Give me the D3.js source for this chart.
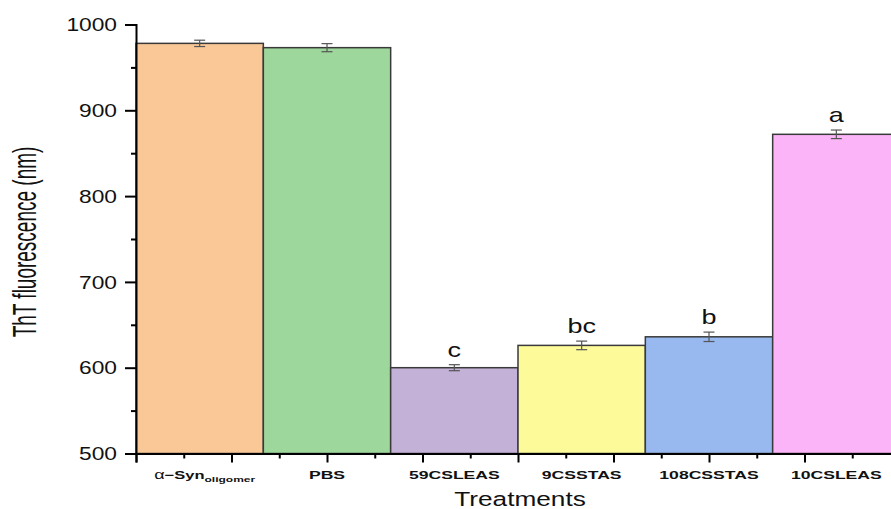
<!DOCTYPE html>
<html>
<head>
<meta charset="utf-8">
<script src="https://cdn.jsdelivr.net/npm/d3@7"></script>
<style>
  html, body { margin: 0; padding: 0; background: #fff; }
  svg { display: block; font-family: "Liberation Sans", Arial, sans-serif; }
</style>
</head>
<body>
<svg id="chart" width="891" height="509"></svg>
<script>
// Treatment groups and ThT fluorescence readings
const categories = ["α−Syn", "PBS", "59CSLEAS", "9CSSTAS", "108CSSTAS", "10CSLEAS"];
const values = [978, 973, 600, 626, 636, 872];
const errors = [3.7, 4.7, 3.5, 5, 5.5, 5];
const letters = ["", "", "c", "bc", "b", "a"];
const colors = ["#FAC897", "#9ED79B", "#C3B1D7", "#FDFB99", "#98B9F0", "#FBB4F7"];
const yTicks = [500, 600, 700, 800, 900, 1000];

const svg = d3.select("#chart");

// Bars sit at positions 1..6 on a numeric axis running 0.5 .. 6.5
const x = d3.scaleLinear().domain([0.5, 6.5]).range([136, 900]);
const y = d3.scaleLinear().domain([500, 1000]).range([453.5, 24.5]);
const bw = x(1.5) - x(0.5);

const data = categories.map((c, i) => ({ c, v: values[i], e: errors[i], l: letters[i], col: colors[i], pos: i + 1 }));

// Text in this figure is set in a horizontally widened face
function widen(sel, px, py, s) {
  sel.attr("x", 0).attr("y", 0).attr("transform", `translate(${px},${py}) scale(${s},1)`);
}

// Bars
svg.append("g").selectAll("rect").data(data).join("rect")
  .attr("x", d => x(d.pos - 0.5))
  .attr("y", d => y(d.v))
  .attr("width", bw)
  .attr("height", d => y(500) - y(d.v))
  .attr("fill", d => d.col)
  .attr("stroke", "#3a3a3a")
  .attr("stroke-width", 1.5);

// Error bars
const eg = svg.append("g").attr("stroke", "#555").attr("stroke-width", 1.2).attr("fill", "none");
data.forEach(d => {
  const cx = x(d.pos);
  eg.append("line").attr("x1", cx).attr("x2", cx).attr("y1", y(d.v + d.e)).attr("y2", y(d.v - d.e));
  eg.append("line").attr("x1", cx - 5.5).attr("x2", cx + 5.5).attr("y1", y(d.v + d.e)).attr("y2", y(d.v + d.e));
  eg.append("line").attr("x1", cx - 5.5).attr("x2", cx + 5.5).attr("y1", y(d.v - d.e)).attr("y2", y(d.v - d.e));
});

// Significance letters
svg.append("g").selectAll("text").data(data.filter(d => d.l)).join("text")
  .attr("text-anchor", "middle")
  .attr("font-size", 20)
  .attr("fill", "#111")
  .text(d => d.l)
  .each(function (d) { widen(d3.select(this), x(d.pos), y(d.v + d.e) - 8, 1.35); });

// Y axis
const yAxis = svg.append("g").attr("transform", "translate(136,0)")
  .call(d3.axisLeft(y).tickValues(yTicks).tickSize(11).tickPadding(7).tickFormat(d3.format("d")));
yAxis.select(".domain").attr("stroke", "#000").attr("stroke-width", 2);
yAxis.selectAll(".tick line").attr("stroke", "#000").attr("stroke-width", 2);
yAxis.selectAll(".tick text")
  .attr("font-size", 17.5).attr("fill", "#111").attr("font-family", "Liberation Sans, Arial, sans-serif")
  .each(function () { widen(d3.select(this), -19, 0, 1.3); d3.select(this).attr("dy", "0.35em"); });
svg.append("g").attr("transform", "translate(136,0)")
  .call(d3.axisLeft(y).tickValues(d3.range(550, 1000, 100)).tickSize(5).tickFormat(""))
  .call(g => g.select(".domain").remove())
  .selectAll(".tick line").attr("stroke", "#000").attr("stroke-width", 2);

// X axis: major ticks every 0.75, minor ticks halfway between
const xMajor = d3.range(0, 9).map(k => 0.5 + k * 0.75);
const xMinor = d3.range(0, 8).map(k => 0.875 + k * 0.75);
const xAxis = svg.append("g").attr("transform", "translate(0,453.5)")
  .call(d3.axisBottom(x).tickValues(xMajor).tickSize(9).tickFormat(""));
xAxis.select(".domain").attr("stroke", "#000").attr("stroke-width", 2);
xAxis.selectAll(".tick line").attr("stroke", "#000").attr("stroke-width", 2);
svg.append("g").attr("transform", "translate(0,453.5)")
  .call(d3.axisBottom(x).tickValues(xMinor).tickSize(5).tickFormat(""))
  .call(g => g.select(".domain").remove())
  .selectAll(".tick line").attr("stroke", "#000").attr("stroke-width", 2);

// Category labels
const lab = svg.append("g").attr("font-size", 11).attr("font-weight", "bold").attr("fill", "#111");
data.forEach((d, i) => {
  const t = lab.append("text").attr("text-anchor", "middle");
  if (i === 0) {
    widen(t, x(d.pos) + 5, 479, 1.5);
    t.append("tspan").attr("font-weight", "normal").attr("font-size", 12).text("α");
    t.append("tspan").text("−Syn");
    t.append("tspan").attr("font-size", 8).attr("dy", 3).text("oligomer");
  } else {
    t.text(d.c);
    widen(t, x(d.pos), 479, 1.6);
  }
});

// Axis titles
widen(svg.append("text").attr("text-anchor", "middle")
  .attr("font-size", 20.5).attr("fill", "#111").text("Treatments"), 520, 505.5, 1.28);
svg.append("text").attr("transform", "translate(36,242) rotate(-90) scale(1,1.7)").attr("text-anchor", "middle")
  .attr("font-size", 19).attr("fill", "#111").text("ThT fluorescence (nm)");
</script>
</body>
</html>
